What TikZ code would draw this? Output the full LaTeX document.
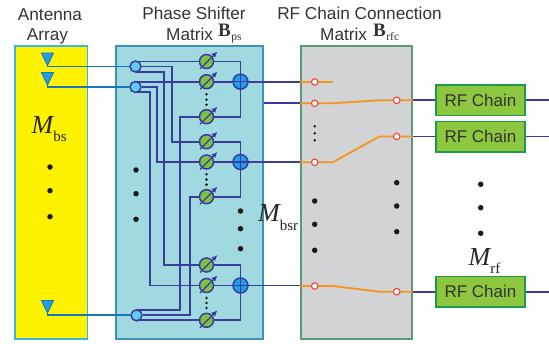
\documentclass[tikz,border=0pt]{standalone}
\usepackage{fontspec}
\setmainfont{Liberation Sans}
\newfontfamily\serifrm{Liberation Serif}
\usetikzlibrary{calc,arrows.meta}
\pgfdeclarelayer{wires}
\pgfdeclarelayer{boxes}
\pgfsetlayers{boxes,wires,main}
\definecolor{cyellow}{HTML}{FFF200}
\definecolor{cyellowb}{HTML}{3CB4E5}
\definecolor{cteal}{HTML}{A0DAE0}
\definecolor{ctealb}{HTML}{3F93B2}
\definecolor{cgray}{HTML}{D1D3D4}
\definecolor{cgrayb}{HTML}{5B9B72}
\definecolor{cwire}{HTML}{3A3C9E}
\definecolor{cant}{HTML}{1B75BC}
\definecolor{cantf}{HTML}{1F9FE8}
\definecolor{csplit}{HTML}{5CCDEE}
\definecolor{cps}{HTML}{7DC242}
\definecolor{corange}{HTML}{F7931E}
\definecolor{cred}{HTML}{EF4136}
\definecolor{crf}{HTML}{8DC63F}
\definecolor{crfb}{HTML}{1D9A4A}
\definecolor{ctext}{HTML}{333333}
\newcommand{\lbl}{\fontsize{17.2}{21}\selectfont\color{ctext}}
\newcommand{\mathB}[1]{{\serifrm\color{ctext}\fontsize{19}{19}\selectfont\bfseries B\hspace{0.5pt}\raisebox{-4.5pt}{\fontsize{11.5}{11.5}\selectfont\mdseries #1}}}
\newcommand{\Msub}[1]{{\serifrm\fontsize{26}{26}\selectfont\color{black!85}\itshape M\raisebox{-8.8pt}{\fontsize{15}{15}\selectfont\upshape #1}}}
\tikzset{
  x=1pt,y=-1pt,
  panel/.style={draw,line width=1.5pt,anchor=north west,inner sep=0pt,minimum height=293pt},
  wire/.style={draw=cwire,line width=1.8pt},
  feed/.style={draw=cant,line width=1.8pt},
  antenna/.style={draw=cant,fill=cantf,line width=0.9pt,line join=round},
  splitter/.style={circle,draw=cwire,fill=csplit,line width=1.5pt,minimum size=11pt,inner sep=0pt},
  shifter/.style={circle,draw=cwire,fill=cps,line width=1.5pt,minimum size=14pt,inner sep=0pt},
  adder/.style={circle,draw=cwire,fill=cantf,line width=1.5pt,minimum size=15pt,inner sep=0pt},
  swpt/.style={circle,draw=cred,fill=white,line width=1.1pt,minimum size=6.5pt,inner sep=0pt},
  sw/.style={draw=corange,line width=1.8pt},
  rfbox/.style={draw=crfb,fill=crf,line width=1.5pt,minimum width=89pt,minimum height=30.5pt,inner sep=0pt,font=\fontsize{17}{20}\selectfont\color{ctext}},
  bigdot/.style={circle,fill=black!90,inner sep=0pt,minimum size=5.5pt},
  smalldot/.style={circle,fill=black!90,inner sep=0pt,minimum size=2.8pt},
  txt/.style={inner sep=0pt,align=center}
}
\begin{document}
\begin{tikzpicture}
\useasboundingbox (0,0) rectangle (549,343);
\begin{pgfonlayer}{boxes}
\node[panel,draw=cyellowb,fill=cyellow,minimum width=72.5pt] (yb) at (14,45) {};
\node[panel,draw=ctealb,fill=cteal,minimum width=147pt] (tb) at (115,45) {};
\node[panel,draw=cgrayb,fill=cgray,minimum width=111pt] (gb) at (300.3,45) {};
\end{pgfonlayer}
% labels
\node[txt,font=\lbl,anchor=base] (t1) at (50,20) {Antenna};
\node[txt,font=\lbl,anchor=base] (t2) at (47.5,40.5) {Array};
\node[txt,font=\lbl,anchor=base] (t3) at (194,19) {Phase Shifter};
\node[txt,font=\lbl,anchor=base west] (t4) at (166,40) {Matrix};
\node[txt,anchor=base west] (t5) at (218,36) {\mathB{ps}};
\node[txt,font=\lbl,anchor=base] (t6) at (359.5,19) {RF Chain Connection};
\node[txt,font=\lbl,anchor=base west] (t7) at (320,40) {Matrix};
\node[txt,anchor=base west] (t8) at (373,36) {\mathB{rfc}};
\node[txt,anchor=base west] (m1) at (31.5,133) {\Msub{bs}};
\node[txt,anchor=base west] (m2) at (258,221.5) {\Msub{bsr}};
\node[txt,anchor=base west] (m3) at (468.5,265) {\Msub{rf}};
% antennas
\coordinate (a1) at (47.5,65.5);
\coordinate (a2) at (47.5,85);
\coordinate (a3) at (47.5,313);
\foreach \a in {a1,a2,a3}
  \draw[antenna] (\a) -- ++(-6,-12.5) -- ++(12,0) -- cycle;
% splitters
\node[splitter] (s1) at (135.5,66.5) {};
\node[splitter] (s2) at (135.5,87) {};
\node[splitter] (s3) at (136.5,315.3) {};
% shifters
\node[shifter] (p1) at (206.5,61.5) {};
\node[shifter] (p2) at (206.5,81.7) {};
\node[shifter] (p3) at (206.5,116.7) {};
\node[shifter] (p4) at (206.5,141.7) {};
\node[shifter] (p5) at (206.5,162) {};
\node[shifter] (p6) at (206.5,196.7) {};
\node[shifter] (p7) at (206.5,265) {};
\node[shifter] (p8) at (206.5,285.5) {};
\node[shifter] (p9) at (206.5,320.3) {};
\foreach \p in {p1,p2,p3,p4,p5,p6,p7,p8,p9}
  \draw[cwire,line width=1.3pt,-{Latex[length=6pt,width=5.5pt]}] ($(\p)+(-6.5,7.5)$) -- ($(\p)+(11,-10)$);
% adders
\node[adder] (c1) at (240.5,81.7) {};
\node[adder] (c2) at (240.5,162) {};
\node[adder] (c3) at (240.5,285.5) {};
\foreach \c in {c1,c2,c3}
  \draw[cwire,line width=1.2pt] (\c.north) -- (\c.south) (\c.west) -- (\c.east);
% switch points
\node[swpt] (l1) at (314.7,82) {};
\node[swpt] (l2) at (314.7,103.3) {};
\node[swpt] (l3) at (314.7,162.3) {};
\node[swpt] (l4) at (314.7,286) {};
\node[swpt] (r1) at (396.7,100.3) {};
\node[swpt] (r2) at (396.7,136.5) {};
\node[swpt] (r3) at (396.7,291.7) {};
% RF chains
\node[rfbox] (f1) at (480.5,100.3) {RF Chain};
\node[rfbox] (f2) at (480.5,136.5) {RF Chain};
\node[rfbox] (f3) at (480.5,291.7) {RF Chain};
\coordinate (o1) at (549,100.3);
\coordinate (o2) at (549,136.5);
\coordinate (o3) at (549,291.7);
% dots
\foreach \y [count=\i] in {167,190.7,216.7} \node[bigdot] (dy\i) at (50,\y) {};
\foreach \y [count=\i] in {170,193.7,219.3} \node[bigdot] (dt\i) at (136,\y) {};
\foreach \y [count=\i] in {211,228.7,248.7} \node[bigdot] (dr\i) at (240.5,\y) {};
\foreach \y [count=\i] in {201,224.3,250.3} \node[bigdot] (dl\i) at (314.7,\y) {};
\foreach \y [count=\i] in {182.7,206,231.7} \node[bigdot] (dg\i) at (396.7,\y) {};
\foreach \y [count=\i] in {184.3,207.7,233.3} \node[bigdot] (do\i) at (480.7,\y) {};
\foreach \y [count=\i] in {94.3,99.7,104.7,174.3,179.6,184.6,298,303,308} \node[smalldot] (ds\i) at (206.5,\y) {};
\foreach \y [count=\i] in {126.3,133.3,140.3} \node[smalldot] (dh\i) at (314.7,\y) {};
\begin{pgfonlayer}{wires}
\draw[feed] (a1) |- (s1);
\draw[feed] (a2) |- (s2);
\draw[feed] (a3) |- (s3);
% splitter 1
\draw[wire] (s1 |- p1) -- (p1);
\draw[wire] (s1) -- ++(36.8,0) |- (p4);
\draw[wire] ($(s1)+(0,5.5)$) -- ++(28.5,0) |- (p7);
% splitter 2
\draw[wire] (s2 |- p2) -- (p2);
\draw[wire] (s2) -- ++(21.2,0) |- (p5);
\draw[wire] ($(s2)+(0,5)$) -- ++(14.2,0) |- (p8);
% splitter 3
\draw[wire] ($(s3)+(0,-5.3)$) -- ++(43.5,0) |- (p3);
\draw[wire] (s3) -- ++(53.2,0) |- (p6);
\draw[wire] (s3 |- p9) -- (p9);
% combiners
\draw[wire] (p1) -| (c1);
\draw[wire] (p3) -| (c1);
\draw[wire] (p2) -- (c1);
\draw[wire] (p4) -| (c2);
\draw[wire] (p6) -| (c2);
\draw[wire] (p5) -- (c2);
\draw[wire] (p7) -| (c3);
\draw[wire] (p9) -| (c3);
\draw[wire] (p8) -- (c3);
% to connection matrix
\draw[wire] (c1) -- (gb.west |- c1);
\draw[wire] (c2) -- (gb.west |- c2);
\draw[wire] (c3) -- (gb.west |- c3);
\draw[wire] (tb.east |- l2) -- (gb.west |- l2);
% switches
\draw[sw] (gb.west |- l1) -- ++(32.4,0);
\draw[sw] (gb.west |- l2) -- ++(32.4,0) -- ($(r1)+(-17.4,0)$) -- (gb.east |- r1);
\draw[sw] (gb.west |- l3) -- ++(32.4,0) -- ($(r2)+(-17.4,0)$) -- (gb.east |- r2);
\draw[sw] (gb.west |- l4) -- ++(32.4,0) -- ($(r3)+(-17.4,0)$) -- (gb.east |- r3);
% to RF chains
\draw[wire] (gb.east |- r1) -- (f1);
\draw[wire] (gb.east |- r2) -- (f2);
\draw[wire] (gb.east |- r3) -- (f3);
\draw[wire] (f1) -- (o1);
\draw[wire] (f2) -- (o2);
\draw[wire] (f3) -- (o3);
\end{pgfonlayer}
\end{tikzpicture}
\end{document}
